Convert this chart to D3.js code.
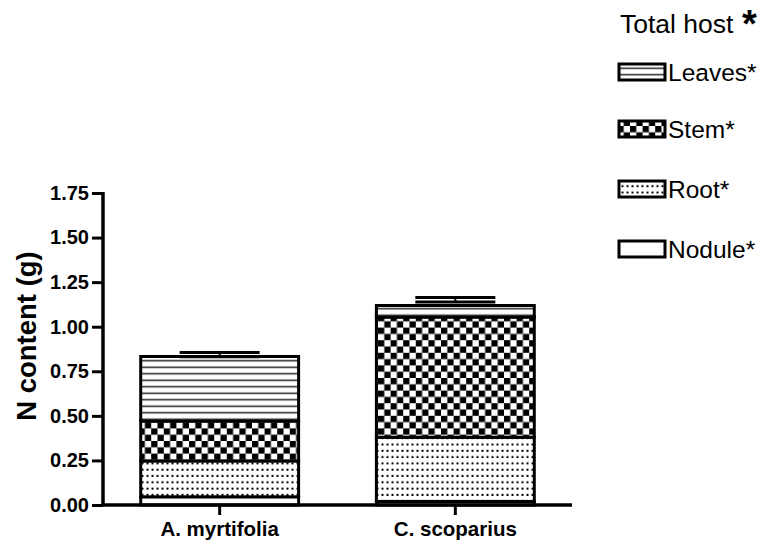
<!DOCTYPE html>
<html>
<head>
<meta charset="utf-8">
<script src="https://cdn.jsdelivr.net/npm/d3@7"></script>
<style>
  html, body { margin: 0; padding: 0; background: #fff; }
  svg { display: block; font-family: "Liberation Sans", Arial, sans-serif; }
</style>
</head>
<body>
<svg id="chart" width="760" height="545"></svg>
<script>
// ---- data ----
const categories = ["A. myrtifolia", "C. scoparius"];
const seriesKeys = ["nodule", "root", "stem", "leaves"];
const seriesLabels = ["Nodule*", "Root*", "Stem*", "Leaves*"];
const nodule = [0.046, 0.02];
const root = [0.201, 0.36];
const stem = [0.224, 0.674];
const leaves = [0.362, 0.065];
const totalMean = [0.843, 1.151];
const totalErr = [0.012, 0.013];
const yTicks = [0, 0.25, 0.5, 0.75, 1.0, 1.25, 1.5, 1.75];
const yTickLabels = ["0.00", "0.25", "0.50", "0.75", "1.00", "1.25", "1.50", "1.75"];
const yTitle = "N content (g)";
const legendTitle = "Total host";

const rows = categories.map((c, i) => ({
  cat: c, nodule: nodule[i], root: root[i], stem: stem[i], leaves: leaves[i],
  mean: totalMean[i], err: totalErr[i]
}));

const svg = d3.select("#chart");

// ---- patterns ----
const defs = svg.append("defs");
const pLeaves = defs.append("pattern").attr("id", "p-leaves")
  .attr("patternUnits", "userSpaceOnUse").attr("width", 10).attr("height", 6.5);
pLeaves.append("rect").attr("width", 10).attr("height", 6.5).attr("fill", "#fff");
pLeaves.append("rect").attr("y", 2.5).attr("width", 10).attr("height", 1.5).attr("fill", "#222");

const sq = 6.3;
const pStem = defs.append("pattern").attr("id", "p-stem")
  .attr("patternUnits", "userSpaceOnUse").attr("width", 2 * sq).attr("height", 2 * sq);
pStem.append("rect").attr("width", 2 * sq).attr("height", 2 * sq).attr("fill", "#fff");
pStem.append("rect").attr("width", sq).attr("height", sq).attr("fill", "#000");
pStem.append("rect").attr("x", sq).attr("y", sq).attr("width", sq).attr("height", sq).attr("fill", "#000");

const pRoot = defs.append("pattern").attr("id", "p-root")
  .attr("patternUnits", "userSpaceOnUse").attr("width", 5).attr("height", 6.3);
pRoot.append("rect").attr("width", 5).attr("height", 6.3).attr("fill", "#fff");
pRoot.append("rect").attr("x", 1.5).attr("y", 2.5).attr("width", 2).attr("height", 2).attr("fill", "#000");

const fills = { nodule: "#fff", root: "url(#p-root)", stem: "url(#p-stem)", leaves: "url(#p-leaves)" };

// ---- scales ----
const x = d3.scaleBand().domain(categories).range([103, 572])
  .paddingInner(0.33).paddingOuter(0.16);
const y = d3.scaleLinear().domain([0, 1.75]).range([505, 193]);

const stack = d3.stack().keys(seriesKeys);
const stacked = stack(rows);

// ---- bars ----
const g = svg.append("g");
stacked.forEach(layer => {
  g.selectAll(null).data(layer).enter().append("rect")
    .attr("x", d => x(d.data.cat))
    .attr("width", x.bandwidth())
    .attr("y", d => y(d[1]))
    .attr("height", d => y(d[0]) - y(d[1]))
    .attr("fill", fills[layer.key])
    .attr("stroke", "#000")
    .attr("stroke-width", 3);
});

// ---- error bars ----
const eb = svg.append("g");
rows.forEach(r => {
  const cx = x(r.cat) + x.bandwidth() / 2;
  const hi = y(r.mean + r.err), lo = y(r.mean - r.err);
  eb.append("line").attr("x1", cx).attr("x2", cx).attr("y1", hi).attr("y2", lo)
    .attr("stroke", "#000").attr("stroke-width", 2);
  [hi, lo].forEach(yy => {
    eb.append("line").attr("x1", cx - 40).attr("x2", cx + 40).attr("y1", yy).attr("y2", yy)
      .attr("stroke", "#000").attr("stroke-width", 3);
  });
});

// ---- axes ----
const yAxis = d3.axisLeft(y).tickValues(yTicks)
  .tickFormat((d, i) => yTickLabels[i]).tickSize(11).tickPadding(3).tickSizeOuter(0);
const ya = svg.append("g").attr("transform", "translate(103,0)").call(yAxis);
ya.select(".domain").attr("stroke", "#000").attr("stroke-width", 3.5)
  .attr("d", `M0,${y(1.75) - 1}V${y(0)}`);
ya.selectAll(".tick line").attr("stroke", "#000").attr("stroke-width", 3);
ya.selectAll(".tick text").attr("fill", "#000").style("font-size", "20px")
  .style("font-weight", "bold").attr("font-family", "Liberation Sans, Arial, sans-serif");

const xAxis = d3.axisBottom(x).tickSize(10).tickPadding(6).tickSizeOuter(0);
const xa = svg.append("g").attr("transform", `translate(0,${y(0)})`).call(xAxis);
xa.select(".domain").attr("stroke", "#000").attr("stroke-width", 3.5)
  .attr("d", "M101.5,0H572");
xa.selectAll(".tick line").attr("stroke", "#000").attr("stroke-width", 3);
xa.selectAll(".tick text").attr("fill", "#000").style("font-size", "20.5px")
  .style("font-weight", "bold").attr("font-family", "Liberation Sans, Arial, sans-serif");

svg.append("text")
  .attr("transform", "translate(36,336) rotate(-90)")
  .attr("text-anchor", "middle")
  .style("font-size", "27.5px").style("font-weight", "bold")
  .text(yTitle);

// ---- legend ----
const lg = svg.append("g");
const lt = lg.append("text").attr("x", 620).attr("y", 33).style("font-size", "26.5px");
lt.append("tspan").text(legendTitle);
lt.append("tspan").attr("x", 742).attr("y", 37).style("font-size", "38px")
  .style("font-weight", "bold").text("*");

const legendOrder = ["leaves", "stem", "root", "nodule"];
const legendY = [72, 129, 189, 249];
legendOrder.forEach((k, i) => {
  const cy = legendY[i];
  lg.append("rect").attr("x", 619).attr("y", cy - 8).attr("width", 46).attr("height", 16)
    .attr("fill", fills[k]).attr("stroke", "#000").attr("stroke-width", 3);
  lg.append("text").attr("x", 668).attr("y", cy + 9)
    .style("font-size", "24.5px")
    .text(seriesLabels[seriesKeys.indexOf(k)]);
});
</script>
</body>
</html>
